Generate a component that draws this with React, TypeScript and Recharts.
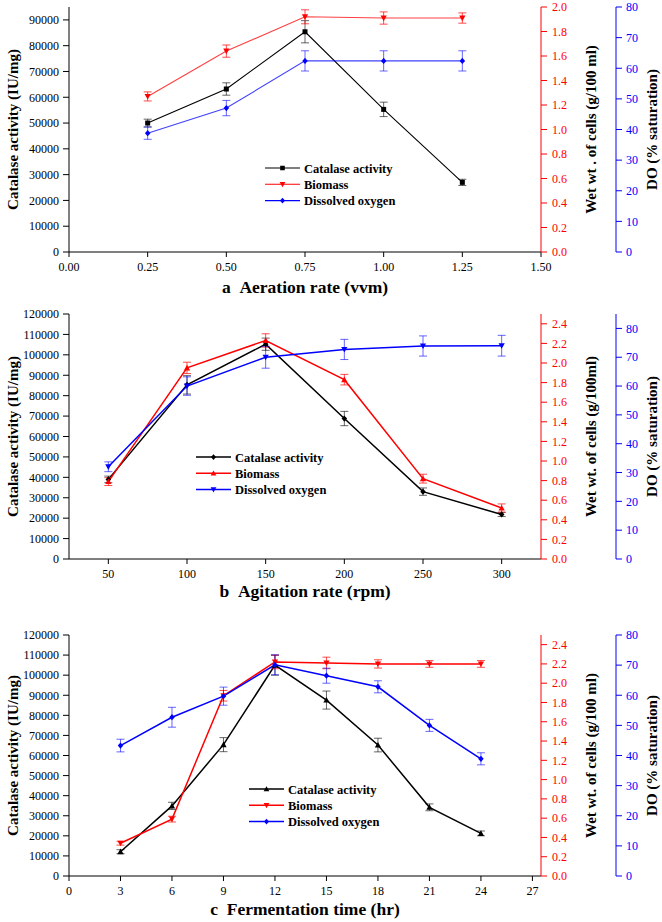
import React from "react";
import { ComposedChart, Line, XAxis, YAxis, ErrorBar, Legend } from "recharts";

// a: aeration rate
const aerationRate = [0.25, 0.5, 0.75, 1.0, 1.25];
const aerCatalase = [50000, 63200, 85400, 55300, 27000];
const aerCatalaseErr = [1500, 2400, 4300, 2800, 1200];
const aerBiomass = [1.27, 1.64, 1.92, 1.91, 1.91];
const aerBiomassErr = [0.037, 0.05, 0.057, 0.05, 0.042];
const aerDO = [38.8, 47.0, 62.4, 62.4, 62.4];
const aerDOErr = [2, 2.5, 3.3, 3.3, 3.3];

// b: agitation rate
const agitationRate = [50, 100, 150, 200, 250, 300];
const agiCatalase = [39000, 85300, 105200, 68800, 33000, 21800];
const agiCatalaseErr = [1600, 4500, 3000, 3500, 1800, 1000];
const agiBiomass = [0.79, 1.95, 2.23, 1.83, 0.82, 0.52];
const agiBiomassErr = [0.04, 0.058, 0.068, 0.054, 0.045, 0.042];
const agiDO = [32, 60, 70, 72.7, 73.9, 74];
const agiDOErr = [1.7, 3.2, 3.8, 3.5, 3.5, 3.6];

// c: fermentation time
const fermTime = [3, 6, 9, 12, 15, 18, 21, 24];
const ferCatalase = [12100, 34900, 65400, 105000, 87600, 65200, 34200, 21200];
const ferCatalaseErr = [1000, 1800, 3500, 5000, 4500, 3400, 1700, 1200];
const ferBiomass = [0.34, 0.59, 1.87, 2.22, 2.21, 2.2, 2.2, 2.2];
const ferBiomassErr = [0.02, 0.03, 0.055, 0.07, 0.06, 0.043, 0.035, 0.035];
const ferDO = [43.3, 52.7, 59.7, 70.1, 66.5, 62.8, 50.0, 38.9];
const ferDOErr = [2.1, 3.3, 3.0, 3.3, 2.5, 2.0, 2.0, 2.0];

// tick labels
const ticksA_x = [0, 0.25, 0.5, 0.75, 1.0, 1.25, 1.5];
const ticksA_cat = [0, 10000, 20000, 30000, 40000, 50000, 60000, 70000, 80000, 90000];
const ticksA_bio = [0, 0.2, 0.4, 0.6, 0.8, 1.0, 1.2, 1.4, 1.6, 1.8, 2.0];
const ticksB_x = [50, 100, 150, 200, 250, 300];
const ticksC_x = [0, 3, 6, 9, 12, 15, 18, 21, 24, 27];
const ticks120k = [0, 10000, 20000, 30000, 40000, 50000, 60000, 70000, 80000, 90000, 100000, 110000, 120000];
const ticks24 = [0, 0.2, 0.4, 0.6, 0.8, 1.0, 1.2, 1.4, 1.6, 1.8, 2.0, 2.2, 2.4];
const ticksDO = [0, 10, 20, 30, 40, 50, 60, 70, 80];

type Shape = "square" | "diamond" | "up" | "down";

const RED = "#ff0000";
const BLUE = "#0000ff";
const FONT = "Liberation Serif, Times New Roman, DejaVu Serif, serif";

function markerPath(shape: Shape, cx: number, cy: number, s: number) {
  switch (shape) {
    case "square":
      return `M${cx - s},${cy - s}h${2 * s}v${2 * s}h${-2 * s}Z`;
    case "diamond":
      return `M${cx},${cy - s * 1.25}L${cx + s * 1.1},${cy}L${cx},${cy + s * 1.25}L${cx - s * 1.1},${cy}Z`;
    case "up":
      return `M${cx},${cy - s * 1.25}L${cx + s * 1.25},${cy + s}L${cx - s * 1.25},${cy + s}Z`;
    default:
      return `M${cx},${cy + s * 1.25}L${cx + s * 1.25},${cy - s}L${cx - s * 1.25},${cy - s}Z`;
  }
}

const makeDot = (shape: Shape, color: string) => (p: any) => {
  if (p.cx == null || p.cy == null) return <g key={`e-${p.index}`} />;
  return <path key={`d-${p.index}`} d={markerPath(shape, p.cx, p.cy, 2.5)} fill={color} />;
};

interface LegendItem { name: string; color: string; shape: Shape }

const makeLegend = (items: LegendItem[], lw: number) => () => (
  <svg width={200} height={52} style={{ overflow: "visible" }}>
    {items.map((it, i) => {
      const y = 8 + i * 16.3;
      return (
        <g key={it.name}>
          <line x1={0} x2={35} y1={y} y2={y} stroke={it.color} strokeWidth={lw} />
          <path d={markerPath(it.shape, 17.5, y, 2.3)} fill={it.color} />
          <text x={39} y={y} dy="0.36em" style={{ fontFamily: FONT, fontSize: 12.5, fontWeight: "bold" }} fill="#000">
            {it.name}
          </text>
        </g>
      );
    })}
  </svg>
);

interface PanelProps {
  top: number;
  height: number;
  plotH: number;
  x: number[];
  cat: number[]; catErr: number[];
  bio: number[]; bioErr: number[];
  dox: number[]; doErr: number[];
  xDomain: [number, number]; xTicks: number[]; xFmt: (v: number) => string;
  catMax: number; catTicks: number[];
  bioMax: number; bioTicks: number[];
  doMax: number;
  xTitle: string; bioTitle: string;
  shapes: [Shape, Shape, Shape];
  legendLeft: number; legendTop: number;
  lw: number;
}

function Panel(p: PanelProps) {
  const rows = p.x.map((v, i) => ({
    x: v,
    cat: p.cat[i], catErr: p.catErr[i],
    bio: p.bio[i], bioErr: p.bioErr[i],
    dox: p.dox[i], doErr: p.doErr[i],
  }));
  const titleStyle = { fontFamily: FONT, fontSize: 15, fontWeight: "bold", fill: "#000", textAnchor: "middle" } as any;
  const tickStyle = (fill: string) => ({ fontFamily: FONT, fontSize: 12, fill });
  const legendItems: LegendItem[] = [
    { name: "Catalase activity", color: "#000", shape: p.shapes[0] },
    { name: "Biomass", color: RED, shape: p.shapes[1] },
    { name: "Dissolved oxygen", color: BLUE, shape: p.shapes[2] },
  ];
  return (
    <div style={{ position: "absolute", left: 0, top: p.top, width: 662, height: p.height }}>
      <ComposedChart width={662} height={p.height} data={rows} margin={{ top: 7, right: 0, bottom: 0, left: 0 }}
        style={{ fontFamily: FONT }}>
        <XAxis
          dataKey="x" type="number" domain={p.xDomain} ticks={p.xTicks} tickFormatter={p.xFmt}
          interval={0} allowDataOverflow stroke="#000" tickSize={5} tickMargin={5}
          height={p.height - 7 - p.plotH}
          tick={tickStyle("#000")}
          label={{ value: p.xTitle, position: "insideBottom", offset: 7, style: { fontFamily: FONT, fontSize: 17.5, fontWeight: "bold", fill: "#000" } }}
        />
        <YAxis
          yAxisId="cat" orientation="left" width={69} domain={[0, p.catMax]} ticks={p.catTicks}
          interval={0} allowDataOverflow stroke="#000" tickSize={6} tickMargin={4}
          tick={tickStyle("#000")}
          label={{ value: "Catalase activity (IU/mg)", angle: -90, position: "insideLeft", offset: 13, style: titleStyle }}
        />
        <YAxis
          yAxisId="bio" orientation="right" width={75} domain={[0, p.bioMax]} ticks={p.bioTicks}
          tickFormatter={(v: number) => v.toFixed(1)}
          interval={0} allowDataOverflow stroke={RED} tickSize={6} tickMargin={5}
          tick={tickStyle(RED)}
          label={{ value: p.bioTitle, angle: -90, position: "insideLeft", offset: 50, style: titleStyle }}
        />
        <YAxis
          yAxisId="do" orientation="right" width={46} domain={[0, p.doMax]} ticks={ticksDO}
          interval={0} allowDataOverflow stroke={BLUE} tickSize={6} tickMargin={4}
          tick={tickStyle(BLUE)}
          label={{ value: "DO (% saturation)", angle: -90, position: "insideLeft", offset: 36, style: titleStyle }}
        />
        <Line yAxisId="cat" dataKey="cat" type="linear" stroke="#000" strokeWidth={p.lw}
          dot={makeDot(p.shapes[0], "#000")} activeDot={false} isAnimationActive={false}>
          <ErrorBar dataKey="catErr" direction="y" width={4} stroke="#000" strokeOpacity={0.6} strokeWidth={1} />
        </Line>
        <Line yAxisId="bio" dataKey="bio" type="linear" stroke={RED} strokeWidth={p.lw}
          strokeOpacity={p.lw < 1.3 ? 0.75 : 1}
          dot={makeDot(p.shapes[1], RED)} activeDot={false} isAnimationActive={false}>
          <ErrorBar dataKey="bioErr" direction="y" width={4} stroke={RED} strokeOpacity={0.7} strokeWidth={1} />
        </Line>
        <Line yAxisId="do" dataKey="dox" type="linear" stroke={BLUE} strokeWidth={p.lw}
          strokeOpacity={p.lw < 1.3 ? 0.75 : 1}
          dot={makeDot(p.shapes[2], BLUE)} activeDot={false} isAnimationActive={false}>
          <ErrorBar dataKey="doErr" direction="y" width={4} stroke={BLUE} strokeOpacity={0.6} strokeWidth={1} />
        </Line>
        <Legend
          layout="vertical" align="center" verticalAlign="middle"
          content={makeLegend(legendItems, p.lw)}
          wrapperStyle={{ left: p.legendLeft, top: p.legendTop, width: 200, height: 52 }}
        />
      </ComposedChart>
    </div>
  );
}

export default function App() {
  return (
    <div style={{ position: "absolute", left: 0, top: 0, width: 662, height: 922, background: "#fff", fontFamily: FONT }}>
      <Panel
        top={0} height={300} plotH={245}
        x={aerationRate}
        cat={aerCatalase} catErr={aerCatalaseErr}
        bio={aerBiomass} bioErr={aerBiomassErr}
        dox={aerDO} doErr={aerDOErr}
        xDomain={[0, 1.5]} xTicks={ticksA_x} xFmt={(v) => v.toFixed(2)}
        catMax={95000} catTicks={ticksA_cat}
        bioMax={2} bioTicks={ticksA_bio}
        doMax={80}
        xTitle={"a\u00a0\u00a0Aeration rate (vvm)"} bioTitle="Wet wt . of cells (g/100 ml)"
        shapes={["square", "down", "diamond"]}
        legendLeft={265} legendTop={160}
        lw={1.1}
      />
      <Panel
        top={307} height={297} plotH={245}
        x={agitationRate}
        cat={agiCatalase} catErr={agiCatalaseErr}
        bio={agiBiomass} bioErr={agiBiomassErr}
        dox={agiDO} doErr={agiDOErr}
        xDomain={[25, 325]} xTicks={ticksB_x} xFmt={(v) => String(v)}
        catMax={120000} catTicks={ticks120k}
        bioMax={2.5} bioTicks={ticks24}
        doMax={85}
        xTitle={"b\u00a0\u00a0Agitation rate (rpm)"} bioTitle="Wet wt. of cells (g/100ml)"
        shapes={["diamond", "up", "down"]}
        legendLeft={196} legendTop={142}
        lw={1.5}
      />
      <Panel
        top={628} height={294} plotH={241}
        x={fermTime}
        cat={ferCatalase} catErr={ferCatalaseErr}
        bio={ferBiomass} bioErr={ferBiomassErr}
        dox={ferDO} doErr={ferDOErr}
        xDomain={[0, 27.5]} xTicks={ticksC_x} xFmt={(v) => String(v)}
        catMax={120000} catTicks={ticks120k}
        bioMax={2.5} bioTicks={ticks24}
        doMax={80}
        xTitle={"c\u00a0\u00a0Fermentation time (hr)"} bioTitle="Wet wt. of cells (g/100 ml)"
        shapes={["up", "down", "diamond"]}
        legendLeft={249} legendTop={153}
        lw={1.5}
      />
    </div>
  );
}
